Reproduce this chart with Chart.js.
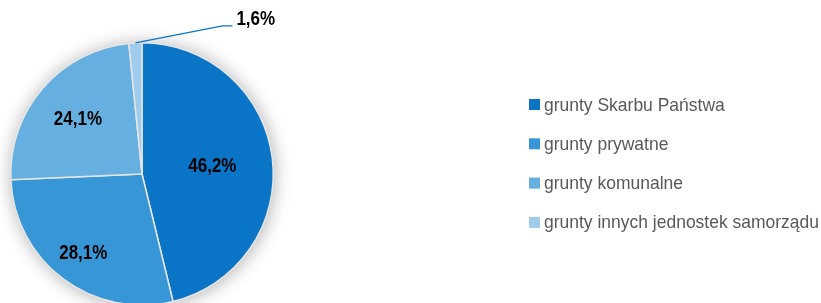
<!DOCTYPE html>
<html><head><meta charset="utf-8">
<script src="https://cdn.jsdelivr.net/npm/chart.js@4/dist/chart.umd.min.js"></script>
<style>
html,body{margin:0;padding:0;background:#fff;overflow:hidden;width:821px;height:303px}
#wrap{position:absolute;left:0;top:0;width:821px;height:340px}
</style></head><body>
<div id="wrap"><canvas id="c" width="821" height="340"></canvas></div>
<script>
const categories = ['grunty Skarbu Państwa', 'grunty prywatne', 'grunty komunalne', 'grunty innych jednostek samorządu'];
const shares = [46.2, 28.1, 24.1, 1.6];
const valueLabels = ['46,2%', '28,1%', '24,1%', '1,6%'];
const colors = ['#0A74C6', '#3796D6', '#66AFE1', '#9FCCEC'];
const labelRadius = [0.54, 0.745, 0.645, null];

const FONT = '"Liberation Sans", Arial, sans-serif';

function narrowText(ctx, text, x, y, align, sx) {
  ctx.save();
  ctx.translate(x, y);
  ctx.scale(sx, 1);
  ctx.textAlign = align;
  ctx.fillText(text, 0, 0);
  ctx.restore();
}

const shadowPlugin = {
  id: 'shadowPlugin',
  beforeDatasetsDraw(chart) {
    const arc = chart.getDatasetMeta(0).data[0];
    if (!arc) return;
    const ctx = chart.ctx;
    ctx.save();
    ctx.shadowColor = 'rgba(0,0,0,0.33)';
    ctx.shadowBlur = 18;
    ctx.shadowOffsetX = 1;
    ctx.shadowOffsetY = 1;
    ctx.fillStyle = '#ffffff';
    ctx.beginPath();
    ctx.arc(arc.x, arc.y, arc.outerRadius, 0, Math.PI * 2);
    ctx.fill();
    ctx.restore();
  }
};

const labelPlugin = {
  id: 'labelPlugin',
  afterDatasetsDraw(chart) {
    const ctx = chart.ctx;
    const meta = chart.getDatasetMeta(0);
    ctx.save();
    ctx.font = 'bold 20px ' + FONT;
    ctx.fillStyle = '#000000';
    ctx.textBaseline = 'middle';
    meta.data.forEach((arc, i) => {
      const mid = (arc.startAngle + arc.endAngle) / 2;
      if (labelRadius[i] !== null) {
        const r = arc.outerRadius * labelRadius[i];
        narrowText(ctx, valueLabels[i], arc.x + r * Math.cos(mid), arc.y + r * Math.sin(mid) + 1, 'center', 0.85);
      } else {
        const sx = arc.x + arc.outerRadius * Math.cos(mid);
        const sy = arc.y + arc.outerRadius * Math.sin(mid);
        const ey = sy - 17;
        const ex = sx + 87;
        ctx.strokeStyle = '#0A74C6';
        ctx.lineWidth = 1.3;
        ctx.beginPath();
        ctx.moveTo(sx, sy);
        ctx.lineTo(ex, ey);
        ctx.lineTo(ex + 10, ey);
        ctx.stroke();
        narrowText(ctx, valueLabels[i], ex + 14, ey - 6, 'left', 0.85);
      }
    });
    ctx.restore();
  }
};

const legendPlugin = {
  id: 'legendPlugin',
  afterDraw(chart) {
    const ctx = chart.ctx;
    ctx.save();
    ctx.font = '18.5px ' + FONT;
    ctx.textBaseline = 'middle';
    chart.data.labels.forEach((lab, i) => {
      const y = 104.5 + i * 39.3;
      ctx.fillStyle = chart.data.datasets[0].backgroundColor[i];
      ctx.fillRect(529, y - 5.5, 11, 11);
      ctx.fillStyle = '#595959';
      narrowText(ctx, lab, 544, y + 1, 'left', 0.945);
    });
    ctx.restore();
  }
};

new Chart(document.getElementById('c'), {
  type: 'pie',
  data: {
    labels: categories,
    datasets: [{
      data: shares,
      backgroundColor: colors,
      borderColor: '#E6E6E6',
      borderWidth: 1.5
    }]
  },
  options: {
    responsive: false,
    animation: false,
    layout: { padding: { left: 10, top: 42, right: 547, bottom: 34 } },
    plugins: { legend: { display: false }, tooltip: { enabled: false }, title: { display: false } }
  },
  plugins: [shadowPlugin, labelPlugin, legendPlugin]
});
</script>
</body></html>
